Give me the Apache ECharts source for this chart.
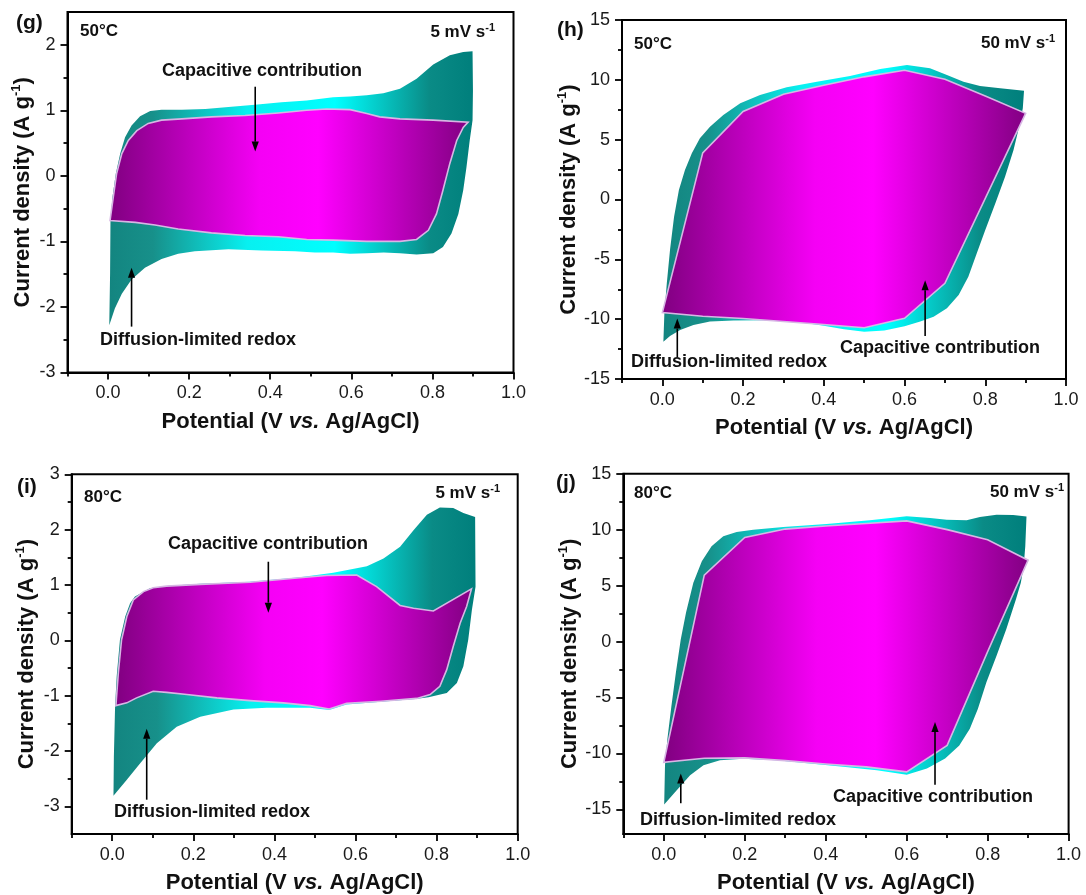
<!DOCTYPE html>
<html><head><meta charset="utf-8">
<script src="https://cdn.jsdelivr.net/npm/echarts@6/dist/echarts.min.js"></script>
<style>html,body{margin:0;padding:0;background:#fff}#c{width:1086px;height:895px}</style>
</head><body><div id="c"></div>
<script>
// ---------- data (V vs. Ag/AgCl, A g^-1) ----------
const xMajor = [0.0, 0.2, 0.4, 0.6, 0.8, 1.0];
const xMinor = [-0.1, 0.1, 0.3, 0.5, 0.7, 0.9];
const yMajorSmall = [-3, -2, -1, 0, 1, 2, 3];
const yMinorSmall = [-2.5, -1.5, -0.5, 0.5, 1.5, 2.5];
const yMajorLarge = [-15, -10, -5, 0, 5, 10, 15];
const yMinorLarge = [-12.5, -7.5, -2.5, 2.5, 7.5, 12.5];

// (g) 50 °C, 5 mV/s : total CV loop
const gOuter = [[0.003,-2.28],[0.005,-1.5],[0.006,-0.68],[0.011,-0.32],[0.019,0.03],[0.030,0.34],[0.042,0.59],[0.058,0.77],[0.079,0.91],[0.104,0.99],[0.132,1.01],[0.182,1.01],[0.24,1.02],[0.297,1.05],[0.362,1.085],[0.428,1.125],[0.49,1.15],[0.555,1.20],[0.597,1.21],[0.638,1.23],[0.679,1.26],[0.72,1.33],[0.761,1.48],[0.802,1.70],[0.843,1.84],[0.876,1.89],[0.899,1.90],
  [0.9,1.3],[0.899,0.85],[0.892,0.54],[0.884,0.13],[0.876,-0.22],[0.864,-0.58],[0.847,-0.88],[0.826,-1.085],[0.802,-1.18],[0.761,-1.20],[0.72,-1.18],[0.68,-1.17],[0.638,-1.18],[0.597,-1.19],[0.555,-1.17],[0.51,-1.17],[0.461,-1.15],[0.379,-1.14],[0.297,-1.12],[0.214,-1.15],[0.173,-1.19],[0.132,-1.27],[0.091,-1.40],[0.058,-1.58],[0.034,-1.80],[0.017,-2.02]];
// (g) capacitive loop
const gInner = [[0.005,-0.68],[0.013,-0.32],[0.021,0.03],[0.034,0.34],[0.05,0.54],[0.071,0.69],[0.099,0.80],[0.132,0.85],[0.182,0.87],[0.255,0.90],[0.338,0.92],[0.42,0.96],[0.49,1.0],[0.539,1.02],[0.597,1.01],[0.638,0.95],[0.67,0.90],[0.72,0.87],[0.802,0.85],[0.888,0.82],
  [0.876,0.74],[0.86,0.54],[0.843,0.19],[0.826,-0.22],[0.81,-0.58],[0.79,-0.83],[0.761,-0.97],[0.72,-1.0],[0.638,-1.0],[0.555,-0.98],[0.49,-0.97],[0.42,-0.93],[0.338,-0.91],[0.255,-0.87],[0.173,-0.81],[0.116,-0.75],[0.067,-0.71]];

// (h) 50 °C, 50 mV/s
const hOuter = [[0.0025,-11.88],[0.005,-9.5],[0.011,-7.0],[0.019,-4.2],[0.029,-1.44],[0.041,0.79],[0.056,2.46],[0.073,3.86],[0.093,5.11],[0.118,6.08],[0.151,7.06],[0.193,8.04],[0.242,8.73],[0.308,9.37],[0.383,9.84],[0.465,10.32],[0.54,10.9],[0.606,11.24],[0.663,10.96],[0.705,10.4],[0.746,9.84],[0.787,9.48],[0.837,9.29],[0.896,9.09],
  [0.893,7.62],[0.886,6.37],[0.87,4.14],[0.849,1.9],[0.825,-0.32],[0.80,-2.55],[0.779,-4.5],[0.758,-6.45],[0.734,-7.98],[0.705,-9.09],[0.672,-9.79],[0.639,-10.2],[0.6,-10.6],[0.55,-10.95],[0.5,-11.05],[0.45,-10.85],[0.4,-10.55],[0.341,-10.25],[0.259,-10.1],[0.176,-10.12],[0.118,-10.2],[0.077,-10.48],[0.044,-10.9],[0.019,-11.4]];
const hInnerV = [0, 0.1, 0.2, 0.3, 0.4, 0.5, 0.6, 0.7, 0.8, 0.9];
const hInnerUp = [-9.45, 3.9, 7.36, 8.8, 9.55, 10.25, 10.8, 10.05, 8.65, 7.2];
const hInnerDown = [-9.45, -9.75, -9.95, -10.2, -10.45, -10.72, -9.93, -7.0, 0.1, 7.2];

// (i) 80 °C, 5 mV/s
const iOuter = [[0.003,-2.81],[0.004,-2.1],[0.007,-1.19],[0.011,-0.65],[0.019,0.01],[0.032,0.43],[0.044,0.67],[0.056,0.79],[0.093,0.94],[0.134,0.98],[0.217,1.02],[0.34,1.06],[0.463,1.14],[0.545,1.22],[0.628,1.34],[0.669,1.48],[0.71,1.69],[0.743,1.99],[0.776,2.27],[0.808,2.40],[0.841,2.39],[0.866,2.30],[0.895,2.23],
  [0.896,0.97],[0.887,0.55],[0.878,0.01],[0.866,-0.47],[0.85,-0.77],[0.825,-0.95],[0.78,-1.03],[0.748,-1.06],[0.663,-1.11],[0.578,-1.16],[0.535,-1.26],[0.488,-1.22],[0.381,-1.22],[0.299,-1.25],[0.217,-1.38],[0.159,-1.56],[0.11,-1.86],[0.069,-2.22],[0.036,-2.52]];
const iInner = [[0.009,-1.18],[0.015,-0.59],[0.023,0.01],[0.036,0.43],[0.052,0.73],[0.077,0.88],[0.101,0.95],[0.134,0.98],[0.217,1.01],[0.34,1.05],[0.463,1.13],[0.529,1.17],[0.603,1.18],[0.652,0.97],[0.71,0.63],[0.743,0.58],[0.792,0.53],[0.886,0.93],
  [0.874,0.61],[0.858,0.31],[0.841,-0.11],[0.825,-0.53],[0.808,-0.83],[0.784,-0.98],[0.751,-1.05],[0.663,-1.1],[0.578,-1.14],[0.535,-1.24],[0.488,-1.18],[0.422,-1.13],[0.34,-1.09],[0.258,-1.04],[0.184,-0.98],[0.134,-0.94],[0.101,-0.92],[0.06,-1.04],[0.036,-1.13]];

// (j) 80 °C, 50 mV/s
const jOuter = [[0.001,-14.56],[0.003,-11.06],[0.009,-8.68],[0.019,-5.72],[0.030,-2.75],[0.042,0.21],[0.055,2.59],[0.073,5.26],[0.094,7.18],[0.118,8.51],[0.147,9.4],[0.18,9.79],[0.221,10.0],[0.295,10.24],[0.402,10.5],[0.509,10.83],[0.6,11.2],[0.658,11.04],[0.699,10.89],[0.748,10.83],[0.781,11.13],[0.822,11.33],[0.863,11.3],[0.896,11.18],
  [0.893,8.51],[0.889,6.7],[0.882,5.26],[0.87,3.77],[0.846,1.1],[0.822,-1.27],[0.797,-3.64],[0.776,-6.01],[0.756,-7.8],[0.73,-9.28],[0.695,-10.46],[0.65,-11.35],[0.6,-11.9],[0.526,-11.5],[0.443,-11.2],[0.361,-10.9],[0.279,-10.6],[0.196,-10.48],[0.139,-10.61],[0.098,-11.06],[0.065,-11.95],[0.032,-13.28]];
const jInnerV = [0, 0.1, 0.2, 0.3, 0.4, 0.5, 0.6, 0.7, 0.8, 0.9];
const jInnerUp = [-10.8, 5.93, 9.3, 10.05, 10.32, 10.55, 10.78, 10.0, 9.1, 7.27];
const jInnerDown = [-10.8, -10.43, -10.4, -10.64, -10.94, -11.2, -11.65, -9.28, -0.9, 7.27];

// annotation arrows [tail, head] in data units
const gArrows = [[[0.363, 1.36], [0.363, 0.37]], [[0.058, -2.30], [0.058, -1.40]]];
const hArrows = [[[0.651, -11.4], [0.651, -6.75]], [[0.037, -13.2], [0.037, -9.95]]];
const iArrows = [[[0.385, 1.42], [0.385, 0.50]], [[0.085, -2.88], [0.085, -1.60]]];
const jArrows = [[[0.67, -12.8], [0.67, -7.2]], [[0.042, -14.45], [0.042, -11.8]]];

// ---------- build ----------
function loopFromBranches(v, up, down) {
  const pts = v.map((x, k) => [x, up[k]]);
  for (let k = v.length - 2; k > 0; k--) pts.push([v[k], down[k]]);
  return pts;
}
const hInner = loopFromBranches(hInnerV, hInnerUp, hInnerDown);
const jInner = loopFromBranches(jInnerV, jInnerUp, jInnerDown);

const FONT = '"Liberation Sans", Arial, sans-serif';

const panels = [
  { grid: {left: 67.5, top: 12, width: 446, height: 360.5}, yMin: -3, yMax: 2.5,
    yMajor: yMajorSmall.filter(v => v <= 2), yMinor: yMinorSmall.filter(v => v < 2.5),
    outer: gOuter, inner: gInner, arrows: gArrows,
    tag: '(g)', temp: '50°C', rate: '5',
    pos: {tag: [16, 23], temp: [80, 31], rate: [495, 32], cap: [262, 71], diff: [198, 340]} },
  { grid: {left: 622, top: 20, width: 444, height: 359}, yMin: -15, yMax: 15,
    yMajor: yMajorLarge, yMinor: yMinorLarge,
    outer: hOuter, inner: hInner, arrows: hArrows,
    tag: '(h)', temp: '50°C', rate: '50',
    pos: {tag: [557, 30], temp: [634, 44], rate: [1055, 43], cap: [940, 348], diff: [729, 362]} },
  { grid: {left: 71.7, top: 474.3, width: 446, height: 359.7}, yMin: -3.5, yMax: 3,
    yMajor: yMajorSmall, yMinor: yMinorSmall.filter(v => v < 3),
    outer: iOuter, inner: iInner, arrows: iArrows,
    tag: '(i)', temp: '80°C', rate: '5',
    pos: {tag: [17, 487], temp: [84, 497], rate: [500, 493], cap: [268, 544], diff: [212, 812]} },
  { grid: {left: 623.3, top: 473.7, width: 445.3, height: 362.3}, yMin: -17.2, yMax: 15,
    yMajor: yMajorLarge, yMinor: yMinorLarge,
    outer: jOuter, inner: jInner, arrows: jArrows,
    tag: '(j)', temp: '80°C', rate: '50',
    pos: {tag: [556, 483], temp: [634, 493], rate: [1064, 492], cap: [933, 797], diff: [738, 820]} }
];

const tealStops = [
  {offset: 0, color: '#138580'}, {offset: 0.12, color: '#17908a'},
  {offset: 0.38, color: '#08f0f0'}, {offset: 0.62, color: '#00ffff'},
  {offset: 0.88, color: '#0a8b86'}, {offset: 1, color: '#007f7c'}];
const magentaStops = [
  {offset: 0, color: '#800080'}, {offset: 0.42, color: '#f500f5'},
  {offset: 0.58, color: '#ff00ff'}, {offset: 1, color: '#820082'}];

function polygonSeries(idx, pts, stops, stroke) {
  return {
    type: 'custom', xAxisIndex: idx * 2, yAxisIndex: idx * 2,
    data: pts, clip: true, silent: true,
    renderItem: function (params, api) {
      if (params.dataIndex !== 0) return null;
      const points = pts.map(p => api.coord(p));
      return {
        type: 'polygon',
        shape: {points: points},
        style: {
          fill: new echarts.graphic.LinearGradient(0, 0, 1, 0, stops),
          stroke: stroke || null, lineWidth: stroke ? 1.6 : 0
        }
      };
    }
  };
}

function arrowSeries(idx, arrows) {
  return {
    type: 'custom', xAxisIndex: idx * 2, yAxisIndex: idx * 2, silent: true, clip: false,
    data: arrows.map(a => [a[0][0], a[0][1], a[1][0], a[1][1]]),
    encode: {x: [0, 2], y: [1, 3]},
    renderItem: function (params, api) {
      const p1 = api.coord([api.value(0), api.value(1)]);
      const p2 = api.coord([api.value(2), api.value(3)]);
      const dx = p2[0] - p1[0], dy = p2[1] - p1[1];
      const L = Math.hypot(dx, dy) || 1, ux = dx / L, uy = dy / L;
      const hl = 10, hw = 3.6;
      const b = [p2[0] - ux * hl, p2[1] - uy * hl];
      return {
        type: 'group', children: [
          {type: 'line', shape: {x1: p1[0], y1: p1[1], x2: b[0], y2: b[1]},
           style: {stroke: '#000', lineWidth: 1.6}},
          {type: 'polygon', shape: {points: [p2, [b[0] - uy * hw, b[1] + ux * hw], [b[0] + uy * hw, b[1] - ux * hw]]},
           style: {fill: '#000'}}
        ]
      };
    }
  };
}

const grids = [], xAxes = [], yAxes = [], series = [], graphics = [];
const tickStyle = {color: '#000', width: 1.8};

panels.forEach((p, i) => {
  grids.push(Object.assign({show: true, borderColor: '#000', borderWidth: 2, backgroundColor: 'transparent'}, p.grid));
  xAxes.push({
    gridIndex: i, type: 'value', min: -0.1, max: 1.0, position: 'bottom',
    axisLine: {show: true, onZero: false, lineStyle: {color: '#000', width: 2}},
    axisTick: {show: true, inside: false, length: 7, lineStyle: tickStyle, customValues: xMajor},
    axisLabel: {show: true, customValues: xMajor, formatter: v => v.toFixed(1), color: '#1a1a1a', fontSize: 18, fontFamily: FONT, margin: 12},
    splitLine: {show: false},
    name: '{b|Potential (V }{i|vs.}{b| Ag/AgCl)}', nameLocation: 'middle', nameGap: 38,
    nameTextStyle: {rich: {
      b: {fontSize: 22, fontWeight: 'bold', fontFamily: FONT, color: '#111'},
      i: {fontSize: 22, fontWeight: 'bold', fontStyle: 'italic', fontFamily: FONT, color: '#111'}}}
  });
  xAxes.push({
    gridIndex: i, type: 'value', min: -0.1, max: 1.0, position: 'bottom',
    axisLine: {show: false, onZero: false},
    axisTick: {show: true, inside: false, length: 4, lineStyle: tickStyle, customValues: xMinor},
    axisLabel: {show: false}, splitLine: {show: false}
  });
  yAxes.push({
    gridIndex: i, type: 'value', min: p.yMin, max: p.yMax, position: 'left',
    axisLine: {show: true, onZero: false, lineStyle: {color: '#000', width: 2}},
    axisTick: {show: true, inside: false, length: 7, lineStyle: tickStyle, customValues: p.yMajor},
    axisLabel: {show: true, customValues: p.yMajor, color: '#1a1a1a', fontSize: 18, fontFamily: FONT, margin: 12},
    splitLine: {show: false},
    name: '{b|Current density (A g}{s|-1}{b|)}', nameLocation: 'middle', nameGap: 32,
    nameTextStyle: {rich: {
      b: {fontSize: 22, fontWeight: 'bold', fontFamily: FONT, color: '#111', lineHeight: 26},
      s: {fontSize: 13, fontWeight: 'bold', fontFamily: FONT, color: '#111', verticalAlign: 'top', lineHeight: 26}}}
  });
  yAxes.push({
    gridIndex: i, type: 'value', min: p.yMin, max: p.yMax, position: 'left',
    axisLine: {show: false, onZero: false},
    axisTick: {show: true, inside: false, length: 4, lineStyle: tickStyle, customValues: p.yMinor},
    axisLabel: {show: false}, splitLine: {show: false}
  });

  series.push(polygonSeries(i, p.outer, tealStops, null));
  series.push(polygonSeries(i, p.inner, magentaStops, '#d7b6e4'));
  series.push(arrowSeries(i, p.arrows));

  const bold = sz => ({fontSize: sz, fontWeight: 'bold', fontFamily: FONT, fill: '#111'});
  const txt = (x, y, text, align, sz, rich) => ({
    type: 'text', x: x, y: y, z: 100, silent: true,
    style: Object.assign({text: text, align: align, verticalAlign: 'middle',
      textAlign: align, textVerticalAlign: 'middle', rich: rich}, bold(sz))
  });
  graphics.push(txt(p.pos.tag[0], p.pos.tag[1], p.tag, 'left', 21));
  graphics.push(txt(p.pos.temp[0], p.pos.temp[1], p.temp, 'left', 17));
  graphics.push(txt(p.pos.rate[0], p.pos.rate[1], '{b|' + p.rate + ' mV s}{s|-1}', 'right', 17,
    {b: bold(17), s: Object.assign(bold(11), {verticalAlign: 'top', lineHeight: 20}) }));
  graphics.push(txt(p.pos.cap[0], p.pos.cap[1], 'Capacitive contribution', 'center', 18));
  graphics.push(txt(p.pos.diff[0], p.pos.diff[1], 'Diffusion-limited redox', 'center', 18));
});

const chart = echarts.init(document.getElementById('c'), null, {renderer: 'canvas'});
chart.setOption({
  animation: false,
  backgroundColor: '#ffffff',
  grid: grids, xAxis: xAxes, yAxis: yAxes, series: series, graphic: graphics
});
</script></body></html>
